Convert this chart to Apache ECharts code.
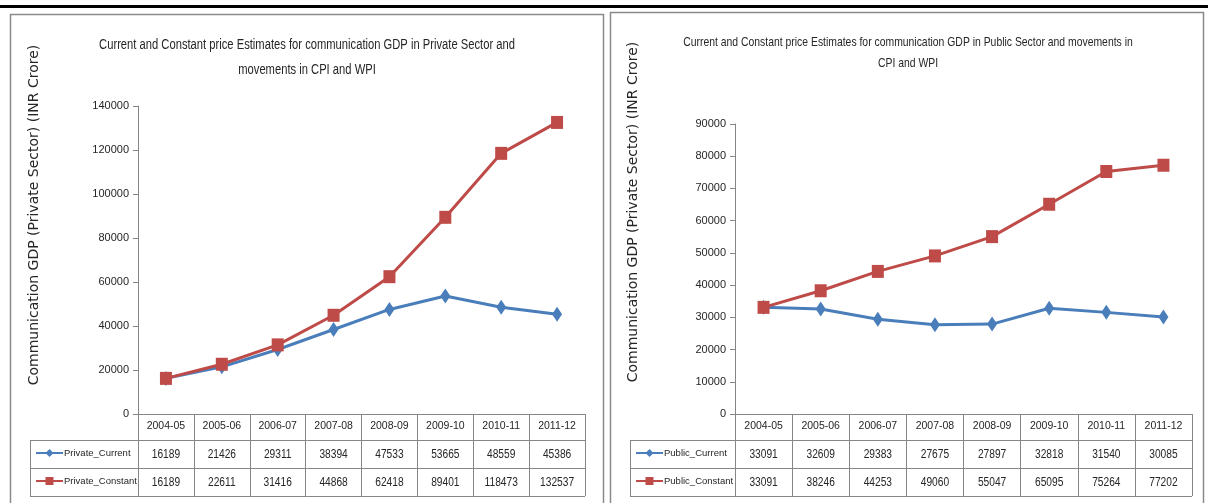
<!DOCTYPE html>
<html>
<head>
<meta charset="utf-8">
<script src="https://cdn.jsdelivr.net/npm/echarts@6/dist/echarts.min.js"></script>
<style>
  html, body { margin: 0; padding: 0; background: #fff; }
  #chart { width: 1208px; height: 503px; }
</style>
</head>
<body>
<div id="chart"></div>
<script>
const years = ['2004-05', '2005-06', '2006-07', '2007-08', '2008-09', '2009-10', '2010-11', '2011-12'];
const privateCurrent = [16189, 21426, 29311, 38394, 47533, 53665, 48559, 45386];
const privateConstant = [16189, 22611, 31416, 44868, 62418, 89401, 118473, 132537];
const publicCurrent = [33091, 32609, 29383, 27675, 27897, 32818, 31540, 30085];
const publicConstant = [33091, 38246, 44253, 49060, 55047, 65095, 75264, 77202];

const privateTitle = ['Current and Constant price Estimates for communication GDP in Private Sector and', 'movements in CPI and WPI'];
const publicTitle = ['Current and Constant price Estimates for communication GDP in Public Sector and movements in', 'CPI and WPI'];
const yAxisName = 'Communication GDP (Private Sector) (INR Crore)';
const privateYAxis = [0, 140000, 20000];
const publicYAxis = [0, 90000, 10000];

const NARROW = '"Liberation Sans", Arial, sans-serif';
const WIDE = '"DejaVu Sans", Verdana, sans-serif';
const BLUE = '#4a7ebb';
const RED = '#be4b48';
const AXIS = '#868686';
const TXT = '#262626';

// layout per panel (pixels)
const panels = [
  {
    title: privateTitle, titleY: [45, 70], titleX: 307, titleSize: 14, titleScale: 0.8,
    frame: [10, 14, 593, 495],
    grid: { left: 138, top: 106, width: 447, height: 308 },
    yAxis: privateYAxis, nameX: 34, nameY: 215, tableLeft: 30,
    rows: [
      { name: 'Private_Current', data: privateCurrent, color: BLUE, symbol: 'diamond', size: [10, 15] },
      { name: 'Private_Constant', data: privateConstant, color: RED, symbol: 'rect', size: [12, 13] }
    ]
  },
  {
    title: publicTitle, titleY: [42, 63], titleX: 908, titleSize: 13.5, titleScale: 0.77,
    frame: [610, 12, 593, 500],
    grid: { left: 735, top: 124, width: 457, height: 290 },
    yAxis: publicYAxis, nameX: 633, nameY: 212, tableLeft: 630,
    rows: [
      { name: 'Public_Current', data: publicCurrent, color: BLUE, symbol: 'diamond', size: [10, 15] },
      { name: 'Public_Constant', data: publicConstant, color: RED, symbol: 'rect', size: [12, 13] }
    ]
  }
];

const axisY = 414;
const rowLines = [440, 468, 496];   // bottom of header row, row 1, row 2

const chart = echarts.init(document.getElementById('chart'), null, { renderer: 'canvas' });

const grids = [];
const xAxes = [];
const yAxes = [];
const series = [];
const legends = [];

panels.forEach((p, pi) => {
  grids.push(p.grid);

  xAxes.push({
    type: 'category',
    gridIndex: pi,
    data: years,
    boundaryGap: true,
    axisLine: { lineStyle: { color: AXIS, width: 1 } },
    axisTick: { show: true, alignWithLabel: false, length: rowLines[2] - axisY, lineStyle: { color: AXIS } },
    axisLabel: { interval: 0, margin: 7, fontFamily: NARROW, fontSize: 10.5, color: TXT },
    splitLine: { show: false }
  });

  yAxes.push({
    type: 'value',
    gridIndex: pi,
    min: p.yAxis[0],
    max: p.yAxis[1],
    interval: p.yAxis[2],
    axisLine: { show: true, lineStyle: { color: AXIS, width: 1 } },
    axisTick: { show: true, length: 5, lineStyle: { color: AXIS } },
    axisLabel: { margin: 9, fontFamily: NARROW, fontSize: 11, color: TXT, formatter: (v) => String(v) },
    splitLine: { show: false }
  });

  p.rows.forEach((r, ri) => {
    series.push({
      type: 'line',
      name: r.name,
      xAxisIndex: pi,
      yAxisIndex: pi,
      data: r.data,
      symbol: r.symbol,
      symbolSize: r.size,
      itemStyle: { color: r.color },
      lineStyle: { color: r.color, width: 3 },
      z: 2 + ri
    });
    const rowMid = (rowLines[ri] + rowLines[ri + 1]) / 2;
    legends.push({
      data: [r.name],
      left: p.tableLeft + 5,
      top: rowMid - 6,
      padding: 0,
      itemWidth: 27,
      itemHeight: 10,
      selectedMode: false,
      textStyle: { fontFamily: NARROW, fontSize: 9.5, color: TXT, padding: [0, 0, 0, -4] }
    });
  });
});

chart.setOption({
  backgroundColor: '#fff',
  animation: false,
  grid: grids,
  xAxis: xAxes,
  yAxis: yAxes,
  legend: legends,
  series: series
});

// titles, frames, table rules, table values and rotated axis names
const elements = [
  { type: 'rect', shape: { x: 0, y: 5, width: 1208, height: 3 }, style: { fill: '#000' }, z: 10 }
];

panels.forEach((p, pi) => {
  const [fx, fy, fw, fh] = p.frame;
  elements.push({ type: 'rect', shape: { x: fx + 0.5, y: fy + 0.5, width: fw, height: fh },
    style: { fill: null, stroke: '#8a8a8a', lineWidth: 1.5 }, z: 10 });

  p.title.forEach((line, li) => {
    elements.push({
      type: 'text', x: p.titleX, y: p.titleY[li], scaleX: p.titleScale,
      style: { text: line, align: 'center', verticalAlign: 'middle', fontFamily: NARROW, fontSize: p.titleSize, fill: TXT },
      z: 10
    });
  });

  elements.push({
    type: 'text', x: p.nameX, y: p.nameY, rotation: Math.PI / 2,
    style: { text: yAxisName, align: 'center', verticalAlign: 'middle', fontFamily: WIDE, fontSize: 14, fill: TXT },
    z: 10
  });

  const right = p.grid.left + p.grid.width;
  rowLines.forEach((y) => {
    elements.push({ type: 'line', shape: { x1: p.tableLeft, y1: y + 0.5, x2: right, y2: y + 0.5 },
      style: { stroke: AXIS, lineWidth: 1 }, z: 10 });
  });
  elements.push({ type: 'line', shape: { x1: p.tableLeft + 0.5, y1: rowLines[0], x2: p.tableLeft + 0.5, y2: rowLines[2] },
    style: { stroke: AXIS, lineWidth: 1 }, z: 10 });

  p.rows.forEach((r, ri) => {
    const rowMid = (rowLines[ri] + rowLines[ri + 1]) / 2 + 0.5;
    r.data.forEach((v, i) => {
      const x = chart.convertToPixel({ xAxisIndex: pi }, i);
      elements.push({
        type: 'text', x: x, y: rowMid, scaleX: 0.85,
        style: { text: String(v), align: 'center', verticalAlign: 'middle', fontFamily: NARROW, fontSize: 12, fill: TXT },
        z: 10
      });
    });
  });
});

chart.setOption({ graphic: { elements: elements } });
</script>
</body>
</html>
